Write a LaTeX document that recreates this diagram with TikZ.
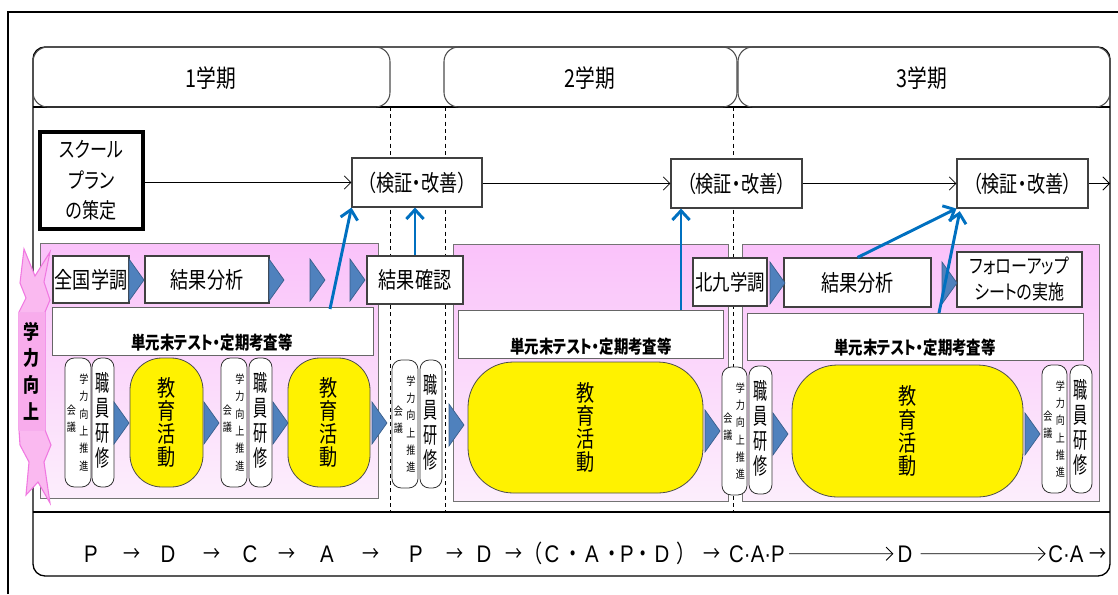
\documentclass[tikz,border=0pt]{standalone}
\usepackage{fontspec}
\setmainfont{Liberation Sans}
\newfontfamily\jp[FakeStretch=0.8,RawFeature=+palt]{Noto Sans CJK JP}
\newfontfamily\jpn[FakeStretch=0.62]{Noto Sans CJK JP}
\newfontfamily\pdcafont[FakeStretch=0.85]{Liberation Sans}
\usetikzlibrary{arrows.meta,calc,fit}
\newcommand\fs[2]{\fontsize{#1}{#2}\selectfont}
\definecolor{blu}{RGB}{0,112,192}
\definecolor{chevf}{RGB}{79,129,189}
\definecolor{chevd}{RGB}{56,93,138}
\definecolor{pinkT}{RGB}{250,194,250}
\definecolor{pinkB}{RGB}{252,238,252}
\definecolor{ribF}{RGB}{250,185,240}
\definecolor{ribD}{RGB}{240,120,225}
\definecolor{ribI}{RGB}{248,172,236}
\tikzset{
  box/.style={draw=black!75, fill=white, line width=0.8pt, inner sep=0pt},
  txt/.style={inner sep=0pt, align=center},
  term/.style={draw=black!70, line width=0.8pt, rounded corners=11pt, inner sep=0pt},
  termtxt/.style={txt, font=\jp\fs{18.5}{22}},
  planbox/.style={box, draw=black, line width=2.6pt},
  plantxt/.style={txt, font=\jp\fs{16}{23}},
  btxt/.style={txt, font=\jp\fs{17}{20}},
  foltxt/.style={txt, font=\jp\fs{15}{19.5}},
  tanbox/.style={draw=black!60, fill=white, line width=0.6pt, inner sep=0pt},
  tantxt/.style={font=\jp\bfseries\fs{13.5}{16}, inner sep=0pt},
  pinkbox/.style={draw=black!55, line width=0.6pt, top color=pinkT, bottom color=pinkB, inner sep=0pt},
  rbox/.style={draw=black!80, fill=white, line width=0.6pt, rounded corners=7pt, inner sep=0pt},
  ybox/.style={draw=black!70, fill=yellow, line width=0.6pt, rounded corners=24pt, inner sep=0pt},
  ytxt/.style={txt, font=\jp\fs{17}{17.3}},
  kenshu/.style={txt, font=\jpn\fs{17}{18.8}},
  small/.style={txt, font=\jp\fs{8.5}{13}},
  blk/.style={line width=0.6pt, -{Straight Barb[length=5pt,width=10pt]}},
  barr/.style={draw=blu, line width=2.2pt, -{Straight Barb[length=7pt,width=13pt]}},
  pd/.style={inner sep=0pt, font=\pdcafont\fs{18}{20}, anchor=base},
  pdarr/.style={inner sep=0pt, font=\jp\fs{16}{20}, anchor=base},
  chev/.pic={\draw[fill=chevf, draw=chevd, line width=0.5pt] (0,-21) -- (15,0) -- (0,21) -- cycle;}
}
\begin{document}
\begin{tikzpicture}[x=0.75pt,y=-0.75pt]
\useasboundingbox (0,0) rectangle (1118,594);
% outer frame
\draw[line width=1.2pt] (8,594) -- (8,12) -- (1118,12);
% inner frame
\draw[line width=1pt, rounded corners=9pt] (33,47) rectangle (1110,576);
\draw[line width=0.8pt] (33,107) -- (1110,107);
\draw[line width=0.8pt] (33,512) -- (1110,512);
% dashed term separators
\foreach \xx in {390,445,733} \draw[dashed, dash pattern=on 3pt off 2.5pt, line width=0.6pt] (\xx,107) -- (\xx,512);
% term headers
\node[term, fit={(33,47) (390,107)}] (t1) {};
\node[term, fit={(444,47) (737,107)}] (t2) {};
\node[term, fit={(738,47) (1110,107)}] (t3) {};
\node[termtxt] (t1x) at (211,78) {1学期};
\node[termtxt] (t2x) at (590,78) {2学期};
\node[termtxt] (t3x) at (922,78) {3学期};
% school plan and review boxes
\node[planbox, fit={(40,132) (143,229)}] (plan) {};
\node[plantxt] (planx) at (plan.center) {スクール\\プラン\\の策定};
\node[box, fit={(352,158) (482,207)}] (ken1) {};
\node[box, fit={(671,159) (802,208)}] (ken2) {};
\node[box, fit={(957,159) (1088,208)}] (ken3) {};
\node[btxt] (ken1x) at (ken1.center) {（検証・改善）};
\node[btxt] (ken2x) at (ken2.center) {（検証・改善）};
\node[btxt] (ken3x) at (ken3.center) {（検証・改善）};
\coordinate (kenend) at (1110,183.5);
\draw[blk] (plan.east |- ken1.west) -- (ken1.west);
\draw[blk] (ken1.east |- ken2.west) -- (ken2.west);
\draw[blk] (ken2.east) -- (ken2.east -| ken3.west);
\draw[blk] (ken3.east) -- (kenend);
% pink sections
\node[pinkbox, fit={(40,243) (378,498)}] (s1) {};
\node[pinkbox, fit={(453,244) (728,501)}] (s2) {};
\node[pinkbox, fit={(742,244) (1099,501)}] (s3) {};
% ribbon
\draw[fill=ribF, draw=ribD, line width=0.8pt] (24,249) -- (35,276) -- (50,252) -- (44,282) -- (50,300) -- (45,312) -- (45,430) -- (51,445) -- (44,462) -- (50,503) -- (38,482) -- (26,495) -- (29,462) -- (20,445) -- (19,430) -- (19,312) -- (26,298) -- (20,283) -- cycle;
\node[fill=ribI, draw=ribD!60, line width=0.5pt, fit={(19,312) (44,430)}, inner sep=0pt] (ribbon) {};
\node[txt, font=\jp\bfseries\fs{15}{20}] (ribbonx) at (ribbon.center) {学\\力\\向\\上};
% top row
\node[box, fit={(53,256) (129,303)}] (zen) {};
\node[box, fit={(145,256) (269,303)}] (kek1) {};
\node[box, fit={(367,256) (463,304)}] (kak) {};
\node[box, fit={(693,258) (767,306)}] (kita) {};
\node[box, fit={(784,258) (931,307)}] (kek2) {};
\node[box, fit={(957,252) (1082,307)}] (fol) {};
\node[btxt] (zenx) at (zen.center) {全国学調};
\node[btxt] (kek1x) at (kek1.center) {結果分析};
\node[btxt] (kakx) at (kak.center) {結果確認};
\node[btxt, font=\jp\fs{16.3}{20}] (kitax) at (kita.center) {北九学調};
\node[btxt] (kek2x) at (kek2.center) {結果分析};
\node[foltxt] (folx) at (fol.center) {フォローアップ\\シートの実施};
% unit test boxes
\node[tanbox, fit={(52,307) (373,355)}] (tan1) {};
\node[tantxt] (tan1t) at (212,343) {単元末テスト・定期考査等};
\node[tanbox, fit={(458,310) (723,358)}] (tan2) {};
\node[tantxt] (tan2t) at (591,347) {単元末テスト・定期考査等};
\node[tanbox, fit={(747,313) (1083,360)}] (tan3) {};
\node[tantxt] (tan3t) at (915,348) {単元末テスト・定期考査等};
% bottom row: meetings, training, education
\foreach \n/\xa/\ya/\xb/\yb in {gk1/65/358/91/487, gk2/221/358/247/487, gk3/392/360/418/488, gk4/722/367/747/495, gk5/1042/365/1067/493}{
  \node[rbox, fit={(\xa,\ya) (\xb,\yb)}] (\n) {};
  \node[small] (\n r) at ($(\n.center)+(6,0)$) {学\\力\\向\\上\\推\\進};
  \node[small] (\n l) at ($(\n.center)+(-6.5,-4)$) {会\\議};
}
\foreach \n/\xa/\ya/\xb/\yb in {sk1/92/358/114/487, sk2/249/358/272/487, sk3/420/360/442/488, sk4/749/366/772/494, sk5/1070/365/1092/493}{
  \node[rbox, fit={(\xa,\ya) (\xb,\yb)}] (\n) {};
  \node[kenshu] (\n t) at ($(\n.center)+(0,-2)$) {職\\員\\研\\修};
}
\node[ybox, fit={(130,358) (203,487)}] (ky1) {};
\node[ybox, fit={(288,358) (370,487)}] (ky2) {};
\node[ybox, rounded corners=34pt, fit={(468,362) (703,493)}] (ky3) {};
\node[ybox, rounded corners=34pt, fit={(792,365) (1023,497)}] (ky4) {};
\foreach \n in {ky1,ky2,ky3,ky4}
  \node[ytxt] (\n x) at (\n.center) {教\\育\\活\\動};
% chevrons
\foreach \cx/\cy in {129/280, 269/280, 310/280, 350/280, 770/283, 942/283, 114/423, 204/423, 273/423, 372/423, 449/425, 705/431, 773/434, 1025/434}
  \pic at (\cx,\cy) {chev};
% blue arrows
\coordinate (a1s) at (330,309);
\coordinate (a3s) at (681,310);
\coordinate (a5s) at (939,313);
\draw[barr] (a1s) -- (ken1.south west);
\draw[barr] (kak.north) -- (kak.north |- ken1.south);
\draw[barr] (a3s) -- (a3s |- ken2.south);
\draw[barr] (kek2.north) -- (ken3.south west);
\draw[barr] (a5s) -- ([xshift=2.5pt,yshift=-2pt]ken3.south west);
% PDCA row
\foreach \t/\xx [count=\i] in {P/91, D/168, C/250, A/327, P/416, D/484, {\jp （}/537, C/552, {\jp ・}/573, A/592, {\jp ・}/612, P/627, {\jp ・}/643, D/662, {\jp ）}/682}
  \node[pd] (pd\i) at (\xx,562) {\t};
\foreach \xx [count=\i] in {132, 212, 287, 371, 455, 514, 712}
  \node[pdarr] (ar\i) at (\xx,561) {→};
\node[pd] (cap) at (757,562) {C·A·P};
\node[pd] (dd) at (905,562) {D};
\node[pd] (ca) at (1066,562) {C·A};
\node[pdarr] (last) at (1098,561) {→};
\draw[blk] ([xshift=3pt]cap.east) -- ([xshift=-3pt]dd.west);
\draw[blk] ([xshift=6pt]dd.east) -- ([xshift=-2pt]ca.west);
\end{tikzpicture}
\end{document}
